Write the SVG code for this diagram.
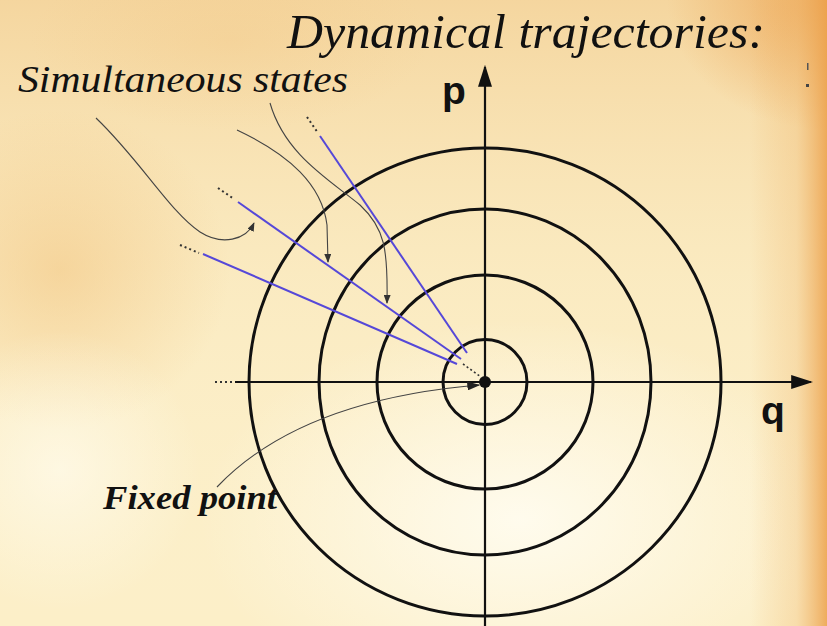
<svg xmlns="http://www.w3.org/2000/svg" width="827" height="626" viewBox="0 0 827 626">
<defs>
<linearGradient id="topG" x1="0" y1="0" x2="0" y2="1">
<stop offset="0" stop-color="#f4d39a" stop-opacity="0.9"/>
<stop offset="0.45" stop-color="#f7e0b0" stop-opacity="0.3"/>
<stop offset="1" stop-color="#fdf6dc" stop-opacity="0"/>
</linearGradient>
<linearGradient id="rightG" x1="0" y1="0" x2="1" y2="0">
<stop offset="0" stop-color="#eeaa55" stop-opacity="0"/>
<stop offset="0.6" stop-color="#efb468" stop-opacity="0.3"/>
<stop offset="1" stop-color="#eca04a" stop-opacity="0.85"/>
</linearGradient>
<radialGradient id="leftB" cx="0.5" cy="0.5" r="0.5">
<stop offset="0" stop-color="#f2c47f" stop-opacity="0.55"/>
<stop offset="1" stop-color="#f2c47f" stop-opacity="0"/>
</radialGradient>
<radialGradient id="cornerB" cx="0.5" cy="0.5" r="0.5">
<stop offset="0" stop-color="#eda656" stop-opacity="0.85"/>
<stop offset="1" stop-color="#eda656" stop-opacity="0"/>
</radialGradient>
<radialGradient id="lightB" cx="0.5" cy="0.5" r="0.5">
<stop offset="0" stop-color="#fffcef" stop-opacity="0.95"/>
<stop offset="1" stop-color="#fffcef" stop-opacity="0"/>
</radialGradient>
<marker id="ah" viewBox="0 0 10 10" refX="9" refY="5" markerWidth="9" markerHeight="7" markerUnits="userSpaceOnUse" orient="auto" preserveAspectRatio="none">
<path d="M0,0 L10,5 L0,10 z" fill="#333"/>
</marker>
<marker id="ahF" viewBox="0 0 10 10" refX="9" refY="5" markerWidth="13" markerHeight="9" markerUnits="userSpaceOnUse" orient="auto" preserveAspectRatio="none">
<path d="M0,0 L10,5 L0,10 z" fill="#222"/>
</marker>
<marker id="ahA" viewBox="0 0 10 10" refX="9" refY="5" markerWidth="22" markerHeight="14" markerUnits="userSpaceOnUse" orient="auto" preserveAspectRatio="none">
<path d="M0,0 L10,5 L0,10 z" fill="#111"/>
</marker>
<style>
.circ{fill:none;stroke:#111;stroke-width:3}
.axis{stroke:#111;stroke-width:2.2;fill:none}
.blue{stroke:#5648d8;stroke-width:2;fill:none}
.dots{stroke:#333;stroke-width:2;stroke-dasharray:2,3;fill:none}
.gray{stroke:#444;stroke-width:1.1;fill:none}
.lbl{font-family:"Liberation Sans",Arial,sans-serif;font-weight:bold;fill:#111}
.ital{font-family:"Liberation Serif","Times New Roman",serif;font-style:italic;fill:#111}
</style>
</defs>
<rect width="827" height="626" fill="#fcefc8"/>
<rect width="827" height="626" fill="url(#topG)"/>
<ellipse cx="60" cy="270" rx="170" ry="160" fill="url(#leftB)"/>
<ellipse cx="230" cy="40" rx="200" ry="90" fill="url(#leftB)" opacity="0.5"/>
<ellipse cx="827" cy="0" rx="160" ry="130" fill="url(#cornerB)"/>
<ellipse cx="520" cy="520" rx="320" ry="200" fill="url(#lightB)"/>
<ellipse cx="60" cy="470" rx="140" ry="140" fill="url(#lightB)" opacity="0.7"/>
<rect x="750" y="0" width="77" height="626" fill="url(#rightG)"/>
<rect x="807" y="63" width="1.5" height="7" fill="#555"/>
<rect x="806" y="84" width="3" height="3" fill="#444"/>

<g id="title"><text class="ital" x="287" y="48" font-size="48" textLength="478" lengthAdjust="spacingAndGlyphs">Dynamical trajectories:</text></g>
<g id="label-simultaneous"><text class="ital" x="18" y="92" font-size="37" textLength="330" lengthAdjust="spacingAndGlyphs">Simultaneous states</text></g>
<g id="label-fixed"><text class="ital" x="103" y="509" font-size="33" font-weight="bold" textLength="174" lengthAdjust="spacingAndGlyphs">Fixed point</text></g>

<g id="axes">
<line class="axis" x1="235" y1="382" x2="811" y2="382" marker-end="url(#ahA)"/>
<line class="dots" x1="215" y1="382" x2="233" y2="382" stroke-width="1.6"/>
<line class="axis" x1="485" y1="626" x2="485" y2="67" marker-end="url(#ahA)"/>
<text class="lbl" x="442" y="104" font-size="39">p</text>
<text class="lbl" x="761" y="424" font-size="39">q</text>
</g>

<g id="orbits">
<ellipse class="circ" cx="485" cy="382" rx="236" ry="234" stroke-width="2.8"/>
<ellipse class="circ" cx="485" cy="382" rx="166" ry="173" stroke-width="3.6"/>
<ellipse class="circ" cx="485" cy="382" rx="108" ry="107"/>
<ellipse class="circ" cx="485" cy="382" rx="42" ry="42.5"/>
</g>

<g id="fixed-point"><circle cx="485" cy="382" r="6" fill="#111"/></g>

<g id="connectors">
<line class="blue" x1="320" y1="136" x2="467" y2="353"/>
<line class="blue" x1="238" y1="202" x2="461" y2="359"/>
<line class="blue" x1="203" y1="254" x2="457" y2="364"/>
<line class="dots" x1="307" y1="117" x2="318" y2="133"/>
<line class="dots" x1="218" y1="188" x2="234" y2="199"/>
<line class="dots" x1="180" y1="245" x2="199" y2="253"/>
<path d="M463,364 L481,377" stroke="#333" stroke-width="1.6" stroke-dasharray="2,2.5" fill="none"/>
<path class="gray" d="M96,118 C140,160 170,212 200,232 C222,246 246,240 254,223" marker-end="url(#ah)"/>
<path class="gray" d="M237,130 C290,155 322,185 327,225 L328,262" marker-end="url(#ah)"/>
<path class="gray" d="M270,103 C285,155 330,180 360,205 C385,228 388,250 387,303" marker-end="url(#ah)"/>
<path class="gray" d="M217,487 Q300,400 479,385" stroke-width="1.3" marker-end="url(#ahF)"/>
</g>
</svg>
